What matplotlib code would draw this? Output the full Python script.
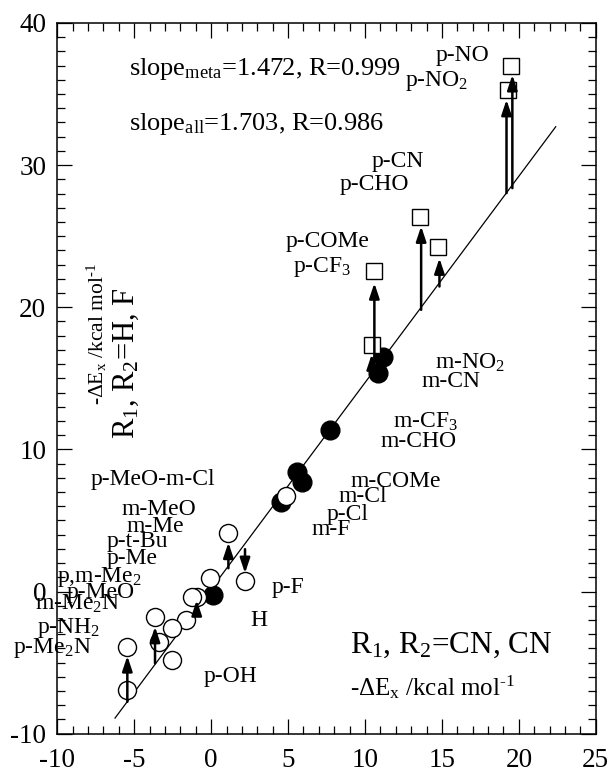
import matplotlib
matplotlib.use("Agg")
import matplotlib.pyplot as plt

plt.rcParams["font.family"] = ["Liberation Serif", "DejaVu Serif"]
plt.rcParams["mathtext.fontset"] = "custom"
plt.rcParams["mathtext.rm"] = "Liberation Serif"
plt.rcParams["mathtext.it"] = "Liberation Serif:italic"
plt.rcParams["axes.unicode_minus"] = False

# meta-substituted (filled circles)
filled_x = [11.2, 10.83, 7.73, 5.57, 5.89, 4.55, 0.14]
filled_y = [16.53, 15.36, 11.37, 8.44, 7.73, 6.33, -0.24]

# other substituents (open circles)
open_x = [4.87, 1.12, 2.2, -0.07, -0.94, -1.26, -1.65, -2.52, -3.65, -3.37, -2.52, -5.45, -5.45]
open_y = [6.73, 4.10, 0.77, 0.94, -0.36, -0.36, -2.0, -2.58, -1.81, -3.53, -4.81, -3.88, -6.92]

# para acceptors (open squares)
square_x = [19.5, 19.28, 13.58, 14.77, 10.61, 10.44]
square_y = [37.0, 35.3, 26.34, 24.27, 22.58, 17.35]

# shifts: x, start y, end y
arrow_x = [-5.45, -3.65, -0.94, 1.12, 2.2, 10.44, 10.61, 13.65, 14.84, 19.2, 19.58]
arrow_y0 = [-7.76, -5.05, -1.64, 1.64, 2.98, 15.83, 16.0, 19.82, 21.46, 28.03, 28.38]
arrow_y1 = [-4.53, -2.47, -0.6, 3.45, 1.29, 16.7, 21.7, 25.7, 23.45, 34.6, 36.35]

# regression line (meta)
fit_x = [-6.25, 22.4]
fit_y = [-8.9, 32.7]

labels = ["p-NO", "p-NO$_2$", "p-CN", "p-CHO", "p-COMe", "p-CF$_3$",
          "m-NO$_2$", "m-CN", "m-CF$_3$", "m-CHO", "m-COMe", "m-Cl", "p-Cl", "m-F",
          "p-MeO-m-Cl", "m-MeO", "m-Me", "p-t-Bu", "p-Me", "p,m-Me$_2$", "p-MeO",
          "m-Me$_2$N", "p-NH$_2$", "p-Me$_2$N", "p-F", "H", "p-OH"]
label_pos = [(14.62, 37.29), (12.6, 35.55), (10.46, 29.9), (8.32, 28.26), (4.84, 24.25),
             (5.31, 22.51), (14.56, 15.71), (13.69, 14.42), (11.83, 11.51), (10.98, 10.2),
             (9.03, 7.38), (8.27, 6.33), (7.52, 5.04), (6.54, 3.98), (-7.83, 7.5),
             (-5.81, 5.39), (-5.49, 4.22), (-6.79, 3.16), (-6.79, 1.92), (-10.04, 0.7),
             (-9.39, -0.47), (-11.45, -1.25), (-11.34, -2.93), (-12.86, -4.34),
             (3.94, -0.12), (2.57, -2.42), (-0.46, -6.34)]

unit = r"-ΔE$_{\mathrm{x}}$ /kcal mol$^{\text{-1}}$"


def main() -> None:
    fig = plt.figure(figsize=(6.1, 7.76), dpi=100)
    ax = fig.add_axes([0.094, 0.0545, 0.8826, 0.9159])

    ax.plot(fit_x, fit_y, color="k", lw=0.9, zorder=1)
    ax.plot(filled_x, filled_y, "o", ms=13.5, mfc="k", mec="k", zorder=2)
    ax.plot(open_x, open_y, "o", ms=13, mfc="white", mec="k", mew=1.0, zorder=3)
    ax.plot(square_x, square_y, "s", ms=12, mfc="white", mec="k", mew=1.0, zorder=3)

    for x, y0, y1 in zip(arrow_x, arrow_y0, arrow_y1):
        ax.annotate("", xy=(x, y1), xytext=(x, y0), zorder=4,
                    arrowprops=dict(arrowstyle="-|>,head_length=0.45,head_width=0.15",
                                    mutation_scale=20, lw=1.8, color="k",
                                    shrinkA=0, shrinkB=0))

    for text, (x, y) in zip(labels, label_pos):
        ax.text(x, y, text, fontsize=17, ha="left", va="baseline", clip_on=False)

    ax.text(-5.36, 36.35, r"slope$_{\mathrm{meta}}$=1.472, R=0.999", fontsize=19, va="baseline")
    ax.text(-5.36, 32.48, r"slope$_{\mathrm{all}}$=1.703, R=0.986", fontsize=19, va="baseline")
    ax.text(9.03, -4.3, r"R$_1$, R$_2$=CN, CN", fontsize=22.5, va="baseline")
    ax.text(9.03, -7.28, unit, fontsize=18, va="baseline")
    ax.text(-7.44, 18.13, unit, fontsize=15.5, rotation=90, ha="center", va="center")
    ax.text(-5.49, 16.07, r"R$_1$, R$_2$=H, F", fontsize=22, rotation=90, ha="center", va="center")

    ax.set_xlim(-10, 25)
    ax.set_ylim(-10, 40)
    ax.set_xticks(range(-10, 26, 5))
    ax.set_yticks(range(-10, 41, 10))
    ax.set_xticks(range(-10, 26), minor=True)
    ax.set_yticks(range(-10, 41), minor=True)
    ax.tick_params(which="both", direction="in", top=True, right=True, width=0.9, labelsize=19.5)
    ax.tick_params(which="major", length=11)
    ax.tick_params(which="minor", length=6)
    ax.tick_params(axis="x", pad=10)
    ax.tick_params(axis="y", pad=8)
    for spine in ax.spines.values():
        spine.set_linewidth(1.1)

    fig.savefig("out.png", dpi=100)


if __name__ == "__main__":
    main()
